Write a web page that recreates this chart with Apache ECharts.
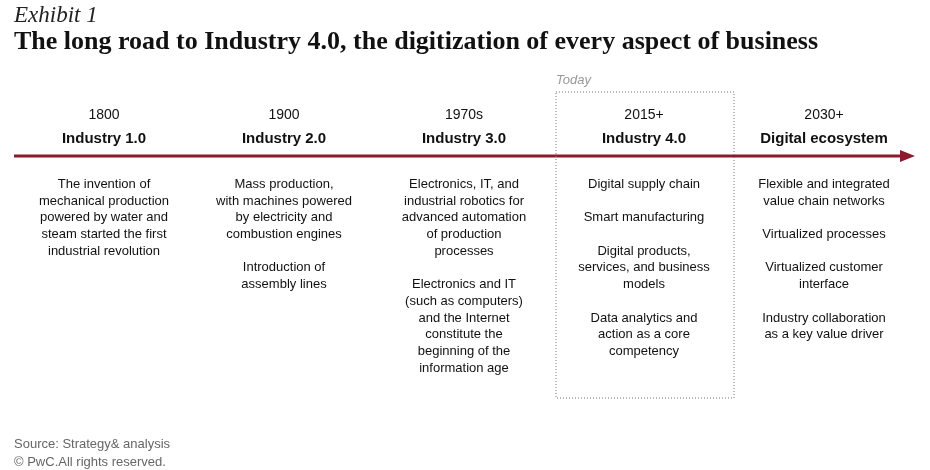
<!DOCTYPE html>
<html><head><meta charset="utf-8">
<script src="https://cdn.jsdelivr.net/npm/echarts@6/dist/echarts.min.js"></script>
<style>html,body{margin:0;padding:0;background:#fff}#c{width:930px;height:470px}</style>
</head><body><div id="c"></div>
<script>
const categories = ['Industry 1.0','Industry 2.0','Industry 3.0','Industry 4.0','Digital ecosystem'];
const years = ['1800','1900','1970s','2015+','2030+'];
const descriptions = [
  'The invention of\nmechanical production\npowered by water and\nsteam started the first\nindustrial revolution',
  'Mass production,\nwith machines powered\nby electricity and\ncombustion engines\n\nIntroduction of\nassembly lines',
  'Electronics, IT, and\nindustrial robotics for\nadvanced automation\nof production\nprocesses\n\nElectronics and IT\n(such as computers)\nand the Internet\nconstitute the\nbeginning of the\ninformation age',
  'Digital supply chain\n\nSmart manufacturing\n\nDigital products,\nservices, and business\nmodels\n\nData analytics and\naction as a core\ncompetency',
  'Flexible and integrated\nvalue chain networks\n\nVirtualized processes\n\nVirtualized customer\ninterface\n\nIndustry collaboration\nas a key value driver'
];
const todayIndex = 3;
const chart = echarts.init(document.getElementById('c'));
const sans = 'Helvetica, "Liberation Sans", Arial, sans-serif';
chart.setOption({
  animation:false,
  grid:{left:14,right:16,top:0,bottom:0},
  xAxis:{type:'category',data:categories,show:false},
  yAxis:{type:'value',min:0,max:470,inverse:true,show:false},
  graphic:[
    {type:'text',left:14,top:4,style:{text:'Exhibit 1',font:'italic 23px "Liberation Serif", serif',fill:'#222'}},
    {type:'text',left:14,top:29,style:{text:'The long road to Industry 4.0, the digitization of every aspect of business',font:'bold 26px "Liberation Serif", serif',fill:'#111'}},
    {type:'line',shape:{x1:14,y1:156,x2:903,y2:156},style:{stroke:'#8c1a2e',lineWidth:3}},
    {type:'polygon',shape:{points:[[900,150],[915,156],[900,162]]},style:{fill:'#8c1a2e'}},
    {type:'rect',shape:{x:556,y:92,width:178,height:306},style:{fill:'none',stroke:'#777',lineWidth:1,lineDash:[1,2]}},
    {type:'text',left:556,top:74,style:{text:'Today',font:'italic 13px '+sans,fill:'#999'}},
    {type:'text',left:14,top:435,style:{text:'Source: Strategy& analysis\n© PwC.All rights reserved.',font:'13px '+sans,fill:'#666',lineHeight:18}}
  ],
  series:[{
    type:'custom',
    data:categories.map((c,i)=>[i,0]),
    renderItem:(params,api)=>{
      const i=api.value(0);
      const x=api.coord([i,0])[0];
      return {type:'group',children:[
        {type:'text',x:x,y:115,style:{text:years[i],font:'14px '+sans,fill:'#111',align:'center',verticalAlign:'middle'}},
        {type:'text',x:x,y:139,style:{text:categories[i],font:'bold 15px '+sans,fill:'#111',align:'center',verticalAlign:'middle'}},
        {type:'text',x:x,y:176,style:{text:descriptions[i],font:'13px '+sans,fill:'#111',align:'center',verticalAlign:'top',lineHeight:16.7}}
      ]};
    }
  }]
});
</script></body></html>
